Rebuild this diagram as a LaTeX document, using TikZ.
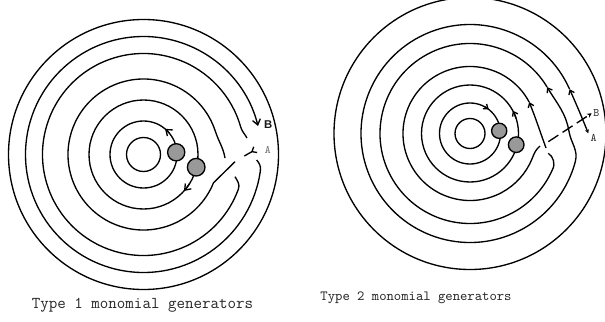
\documentclass[tikz,border=0pt]{standalone}
\usepackage{fontspec}
\usetikzlibrary{arrows.meta}
\newfontfamily\sansf{Liberation Sans}
\begin{document}
\begin{tikzpicture}[x=0.75pt,y=0.75pt,line width=1pt,
  arrL/.style={-{Straight Barb[length=4pt,width=6pt]}},
  arrR/.style={-{Straight Barb[length=3pt,width=4.5pt]}},
  dotc/.style={fill=black!40,draw=black},
  cutline/.style={dash pattern=on 9pt off 3.75pt}]
\useasboundingbox (0,0) rectangle (605,-321);
\clip (0,0) rectangle (605,-321);
% ---------- left diagram ----------
\begin{scope}[shift={(143.5,-154.5)}]
  \draw (0,0) circle[radius=135];
  \draw (0,0) circle[radius=17];
  \draw (0,0) circle[radius=33.5];
  \draw (0,0) circle[radius=54.5];
  \draw (91.5,-7.2) -- (-22:75.5) arc[start angle=-22,end angle=-342,radius=75.5]
        to[out=-72,in=100] (81.5,-3.5);
  \draw (91.5,-22.2) to[out=-60,in=70] (-20:101) arc[start angle=-20,end angle=-344,radius=101]
        to[out=-74,in=120] (103.5,16.5);
  \draw[arrL] (113.2,-5.5) to[out=-50,in=82] (-8:118) arc[start angle=-8,end angle=-346,radius=118];
  \draw[-{Straight Barb[reversed,length=3pt,width=5pt]}] (100.8,-1.5) -- (112.5,5.2);
  \draw[arrL] (40:33.5) arc[start angle=40,end angle=50,radius=33.5];
  \draw[arrL] (-32:54.5) arc[start angle=-32,end angle=-42,radius=54.5];
  \draw[dotc] (32.7,2.2) circle[radius=8.6];
  \draw[dotc] (52.7,-12.7) circle[radius=8.8];
  \node[font=\sansf\bfseries\fontsize{8.5}{10}\selectfont,text=black!90] (lB) at (124.8,29.5) {B};
  \node[font=\ttfamily\fontsize{8.5}{10}\selectfont,text=black!55] (lA) at (124.3,4.5) {A};
\end{scope}
% ---------- right diagram ----------
\begin{scope}[shift={(470,-133.5)}]
  \draw (0,0) circle[radius=136];
  \draw (0,0) circle[radius=15];
  \draw (0,0) circle[radius=30.5];
  \draw (0,0) circle[radius=48.5];
  \draw[arrR] (62:30.5) arc[start angle=62,end angle=52,radius=30.5];
  \draw[arrR] (18:48.5) arc[start angle=18,end angle=28,radius=48.5];
  \draw[arrR] (76,-14.5) to[out=110,in=-68] (28:67);
  \draw (28:67) arc[start angle=28,end angle=338,radius=67] to[out=68,in=-140] (70,-12.5);
  \draw[{Stealth[length=3pt,width=3pt]}-{Straight Barb[length=3pt,width=4.5pt]}]
        (118.3,0.2) to[out=112,in=-66] (24:109);
  \draw[arrR] (24:109) arc[start angle=24,end angle=345,radius=109]
        to[out=75,in=-80] (99,2) to[out=100,in=-59] (31:90);
  \draw (31:90) arc[start angle=31,end angle=336,radius=90]
        .. controls (86,-30) and (83,-23) .. (78.3,-19.8);
  \draw[cutline,-{Stealth[length=3.5pt,width=3.5pt]}] (78.3,-8.2) -- (121.7,20.2);
  \draw[dotc] (29.2,2.7) circle[radius=7.6];
  \draw[dotc] (46.2,-11.2) circle[radius=7.8];
  \node[font=\ttfamily\fontsize{8.6}{10}\selectfont,text=black!80] (rB) at (126.3,20.2) {B};
  \node[font=\ttfamily\fontsize{8.6}{10}\selectfont,text=black!80] (rA) at (123.7,-4.8) {A};
\end{scope}
% ---------- captions ----------
\node[font=\ttfamily\fontsize{12.4}{14}\selectfont,text=black!85] (cap1) at (142.5,-305) {Type 1 monomial generators};
\node[font=\ttfamily\fontsize{10.5}{12}\selectfont,text=black!85] (cap2) at (416,-298) {Type 2 monomial generators};
\end{tikzpicture}
\end{document}
